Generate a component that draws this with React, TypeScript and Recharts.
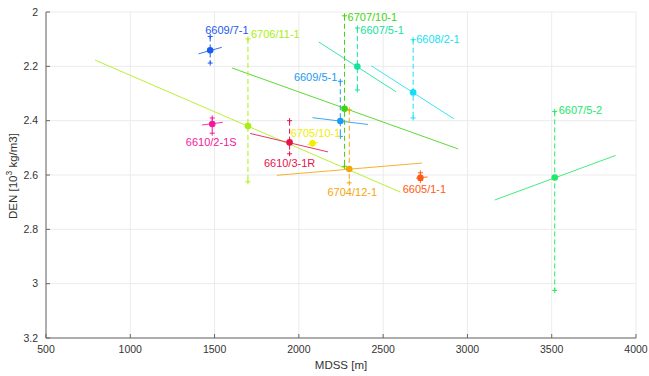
import React from 'react';
import { ComposedChart, XAxis, YAxis, CartesianGrid, Line, Scatter } from 'recharts';

// ---------- data ----------
const wells = ['6609/7-1', '6706/11-1', '6707/10-1', '6607/5-1', '6608/2-1', '6609/5-1', '6610/2-1S', '6610/3-1R', '6705/10-1', '6704/12-1', '6605/1-1', '6607/5-2'];
const mdss = [1474, 1698, 2271, 2347, 2678, 2246, 1486, 1945, 2081, 2299, 2721, 3518];
const den = [2.141, 2.42, 2.356, 2.201, 2.296, 2.401, 2.412, 2.48, 2.483, 2.578, 2.61, 2.609];
const denLow = [2.09, 2.099, 2.014, 2.059, 2.102, 2.255, 2.39, 2.4, 2.479, 2.36, 2.592, 2.366];
const denHigh = [2.188, 2.625, 2.568, 2.287, 2.39, 2.458, 2.446, 2.522, 2.487, 2.629, 2.62, 3.025];
const trendMdssStart = [1405, 791, 1603, 2117, 2430, 2081, 1425, 1711, 2049, 1870, 2695, 3162];
const trendDenStart = [2.154, 2.177, 2.206, 2.11, 2.198, 2.389, 2.416, 2.447, 2.488, 2.601, 2.612, 2.692];
const trendMdssEnd = [1543, 2602, 2945, 2577, 2919, 2410, 1549, 2173, 2114, 2731, 2764, 3879];
const trendDenEnd = [2.13, 2.663, 2.504, 2.294, 2.393, 2.414, 2.406, 2.515, 2.48, 2.556, 2.607, 2.528];
const xTicks = [500, 1000, 1500, 2000, 2500, 3000, 3500, 4000];
const yTicks = [2, 2.2, 2.4, 2.6, 2.8, 3, 3.2];

// ---------- styles ----------
const colors = ['#1a5aee', '#aaee11', '#3fd40f', '#14e39a', '#14e0f5', '#1e9af0', '#f5169a', '#e8124a', '#f2ee00', '#f5a50a', '#ff5a14', '#22e868'];
// label placement relative to the point: [dx, dy, anchor]
const labelPlace: [number, number, string][] = [
  [-5, -20, 'start'],
  [3, -92, 'start'],
  [3, -91.5, 'start'],
  [3, -36.5, 'start'],
  [3, -53, 'start'],
  [-3, -44, 'end'],
  [-1, 18, 'middle'],
  [0, 21, 'middle'],
  [3, -10, 'middle'],
  [3, 23, 'middle'],
  [4, 11, 'middle'],
  [4, -67, 'start'],
];
const FONT = '"Liberation Sans", Arial, Helvetica, sans-serif';

const PlusCap = (color: string) => (props: any) => {
  const { cx, cy, index } = props;
  if (cx == null || cy == null) return <g key={`c${index}`} />;
  return (
    <path
      key={`c${index}`}
      d={`M${cx - 2.5},${cy}H${cx + 2.5}M${cx},${cy - 2.5}V${cy + 2.5}`}
      stroke={color}
      strokeWidth={1}
      fill="none"
    />
  );
};

const PointShape = (i: number) => (props: any) => {
  const { cx, cy } = props;
  const [dx, dy, anchor] = labelPlace[i];
  return (
    <g>
      <circle cx={cx} cy={cy} r={3.3} fill={colors[i]} />
      <text
        x={cx + dx}
        y={cy + dy}
        textAnchor={anchor as any}
        dominantBaseline="central"
        fill={colors[i]}
        fontSize={11}
        fontFamily={FONT}
      >
        {wells[i]}
      </text>
    </g>
  );
};

export default function App() {
  return (
    <div style={{ position: 'absolute', left: 0, top: 0, background: '#fff' }}>
      <ComposedChart width={649} height={376} margin={{ top: 12, right: 13, bottom: 8, left: 0 }}>
        <CartesianGrid stroke="#ebebeb" strokeWidth={1} horizontalValues={yTicks} verticalValues={xTicks} />
        <XAxis
          type="number"
          dataKey="x"
          domain={[500, 4000]}
          ticks={xTicks}
          allowDataOverflow
          height={30}
          stroke="#666"
          tickSize={-4}
          tickMargin={12}
          tick={{ fontSize: 10.5, fill: '#333', fontFamily: FONT }}
          label={{
            content: () => (
              <text x={341} y={369} textAnchor="middle" fontSize={11.5} fill="#333" fontFamily={FONT}>
                MDSS [m]
              </text>
            ),
          }}
        />
        <YAxis
          type="number"
          dataKey="y"
          reversed
          domain={[2, 3.2]}
          ticks={yTicks}
          allowDataOverflow
          width={46}
          stroke="#666"
          tickSize={-4}
          tickMargin={12}
          tick={{ fontSize: 10.5, fill: '#333', fontFamily: FONT }}
          label={{
            content: () => (
              <text
                x={17}
                y={176}
                transform="rotate(-90 17 176)"
                textAnchor="middle"
                fontSize={11.5}
                fill="#333"
                fontFamily={FONT}
              >
                DEN [10<tspan dy={-5} fontSize={8.5}>3</tspan>
                <tspan dy={5}> kg/m3]</tspan>
              </text>
            ),
          }}
        />
        {wells.map((w, i) => (
          <Line
            key={`t${i}`}
            data={[
              { x: trendMdssStart[i], y: trendDenStart[i] },
              { x: trendMdssEnd[i], y: trendDenEnd[i] },
            ]}
            dataKey="y"
            stroke={colors[i]}
            strokeOpacity={0.85}
            strokeWidth={1}
            dot={false}
            activeDot={false}
            isAnimationActive={false}
          />
        ))}
        {wells.map((w, i) => (
          <Line
            key={`e${i}`}
            data={[
              { x: mdss[i], y: denLow[i] },
              { x: mdss[i], y: denHigh[i] },
            ]}
            dataKey="y"
            stroke={colors[i]}
            strokeWidth={1}
            strokeDasharray="5 3"
            dot={PlusCap(colors[i])}
            activeDot={false}
            isAnimationActive={false}
          />
        ))}
        {wells.map((w, i) => (
          <Scatter
            key={`p${i}`}
            data={[{ x: mdss[i], y: den[i] }]}
            fill={colors[i]}
            shape={PointShape(i)}
            isAnimationActive={false}
          />
        ))}
      </ComposedChart>
    </div>
  );
}
